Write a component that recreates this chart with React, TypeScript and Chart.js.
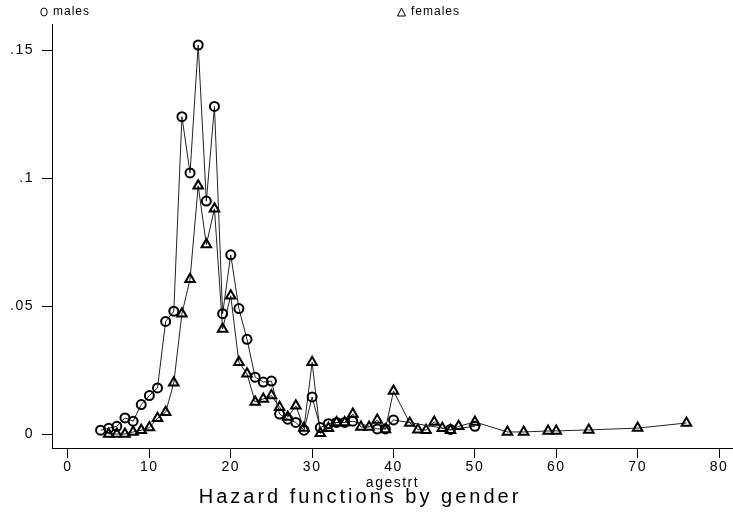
import React, { useEffect, useRef } from "react";
import { Chart, registerables } from "chart.js";

Chart.register(...registerables);

const maleAges = [4, 5, 6, 7, 8, 9, 10, 11, 12, 13, 14, 15, 16, 17, 18, 19, 20, 21, 22, 23, 24, 25, 26, 27, 28, 29, 30, 31, 32, 33, 34, 35, 38, 39, 40, 47, 50];
const maleHazard = [0.0015, 0.0022, 0.003, 0.0063, 0.005, 0.0115, 0.015, 0.018, 0.044, 0.048, 0.124, 0.102, 0.152, 0.091, 0.128, 0.047, 0.07, 0.049, 0.037, 0.0222, 0.0203, 0.0207, 0.0078, 0.0058, 0.0045, 0.0015, 0.0145, 0.0025, 0.004, 0.0045, 0.0045, 0.005, 0.002, 0.002, 0.0055, 0.0018, 0.003];

const femaleAges = [5, 6, 7, 8, 9, 10, 11, 12, 13, 14, 15, 16, 17, 18, 19, 20, 21, 22, 23, 24, 25, 26, 27, 28, 29, 30, 31, 32, 33, 34, 35, 36, 37, 38, 39, 40, 42, 43, 44, 45, 46, 47, 48, 50, 54, 56, 59, 60, 64, 70, 76];
const femaleHazard = [0, 0, 0, 0.0008, 0.0015, 0.0025, 0.0062, 0.0085, 0.02, 0.047, 0.0605, 0.097, 0.074, 0.088, 0.041, 0.054, 0.028, 0.0235, 0.0125, 0.0137, 0.015, 0.0105, 0.0066, 0.011, 0.0023, 0.028, 0.0003, 0.0022, 0.0045, 0.0045, 0.0078, 0.0027, 0.0027, 0.0055, 0.0018, 0.0168, 0.0043, 0.0017, 0.0015, 0.0047, 0.0022, 0.0015, 0.003, 0.0047, 0.0008, 0.0008, 0.0012, 0.0012, 0.0016, 0.0023, 0.0043];

const xTicks = [0, 10, 20, 30, 40, 50, 60, 70, 80];
const yTicks = [0, 0.05, 0.1, 0.15];
const yTickLabels = ["0", ".05", ".1", ".15"];
const seriesNames = ["males", "females"];
const xAxisTitle = "agestrt";
const chartTitle = "Hazard functions by gender";

const FONT = '"Liberation Sans", Arial, sans-serif';

export default function App() {
  const ref = useRef<HTMLCanvasElement | null>(null);

  useEffect(() => {
    document.body.style.margin = "0";
    const canvas = ref.current;
    if (!canvas) return;

    const textPlugin = {
      id: "textPlugin",
      beforeDraw(chart: any) {
        chart.ctx.letterSpacing = "1.5px";
      },
      afterDraw(chart: any) {
        const ctx = chart.ctx as CanvasRenderingContext2D;
        ctx.save();
        ctx.fillStyle = "#000";
        ctx.strokeStyle = "#000";
        ctx.textBaseline = "middle";
        ctx.textAlign = "left";
        // legend
        ctx.letterSpacing = "1px";
        ctx.font = `12px ${FONT}`;
        ctx.lineWidth = 1;
        ctx.beginPath();
        ctx.ellipse(44, 12, 3.2, 4, 0, 0, Math.PI * 2);
        ctx.stroke();
        ctx.fillText(seriesNames[0], 53, 12);
        ctx.beginPath();
        ctx.moveTo(397.5, 16);
        ctx.lineTo(401.5, 8);
        ctx.lineTo(405.5, 16);
        ctx.closePath();
        ctx.stroke();
        ctx.fillText(seriesNames[1], 411, 12);
        // title
        ctx.letterSpacing = "3px";
        ctx.font = `20px ${FONT}`;
        ctx.textAlign = "center";
        ctx.fillText(chartTitle, 360, 497);
        ctx.restore();
      },
    };

    const chart = new Chart(canvas, {
      type: "scatter",
      data: {
        datasets: [
          {
            label: seriesNames[0],
            data: maleAges.map((a, i) => ({ x: a, y: maleHazard[i] })),
            showLine: true,
            borderColor: "#222",
            borderWidth: 1,
            pointStyle: "circle",
            pointRadius: 4.5,
            pointBorderWidth: 2,
            pointBorderColor: "#000",
            pointBackgroundColor: "rgba(255,255,255,0)",
          },
          {
            label: seriesNames[1],
            data: femaleAges.map((a, i) => ({ x: a, y: femaleHazard[i] })),
            showLine: true,
            borderColor: "#222",
            borderWidth: 1,
            pointStyle: "triangle",
            pointRadius: 5.5,
            pointBorderWidth: 2,
            pointBorderColor: "#000",
            pointBackgroundColor: "rgba(255,255,255,0)",
          },
        ],
      },
      options: {
        responsive: false,
        animation: false,
        layout: { autoPadding: false, padding: { top: 24, left: 0, right: 0, bottom: 0 } },
        plugins: {
          legend: { display: false },
          tooltip: { enabled: false },
          title: { display: false },
        },
        scales: {
          x: {
            type: "linear",
            min: -1.966,
            max: 81.72,
            afterBuildTicks: (scale: any) => {
              scale.ticks = xTicks.map((v) => ({ value: v }));
            },
            afterFit: (scale: any) => {
              scale.height = 65;
              scale.paddingLeft = 0;
              scale.paddingRight = 0;
            },
            grid: {
              drawOnChartArea: false,
              drawTicks: true,
              tickLength: 10,
              color: "#000",
              tickColor: "#000",
            },
            border: { display: true, color: "#000", width: 1 },
            ticks: {
              color: "#000",
              padding: 1,
              maxRotation: 0,
              autoSkip: false,
              font: { family: FONT, size: 14 },
              callback: (v: any) => String(v),
            },
            title: {
              display: true,
              text: xAxisTitle,
              color: "#000",
              font: { family: FONT, size: 14 },
              padding: { top: 0, bottom: 21 },
            },
          },
          y: {
            type: "linear",
            min: -0.00547,
            max: 0.1602,
            afterBuildTicks: (scale: any) => {
              scale.ticks = yTicks.map((v) => ({ value: v }));
            },
            afterFit: (scale: any) => {
              scale.width = 52;
              scale.paddingTop = 0;
              scale.paddingBottom = 0;
            },
            grid: {
              drawOnChartArea: false,
              drawTicks: true,
              tickLength: 10,
              color: "#000",
              tickColor: "#000",
            },
            border: { display: true, color: "#000", width: 1 },
            ticks: {
              color: "#000",
              padding: 8,
              autoSkip: false,
              font: { family: FONT, size: 14 },
              callback: (v: any) => {
                const i = yTicks.findIndex((t) => Math.abs(t - Number(v)) < 1e-9);
                return i >= 0 ? yTickLabels[i] : "";
              },
            },
          },
        },
      },
      plugins: [textPlugin],
    } as any);

    return () => {
      chart.destroy();
    };
  }, []);

  return (
    <div style={{ position: "fixed", left: 0, top: 0, width: 733, height: 513, background: "#fff" }}>
      <canvas ref={ref} width={733} height={513} style={{ display: "block" }} />
    </div>
  );
}
